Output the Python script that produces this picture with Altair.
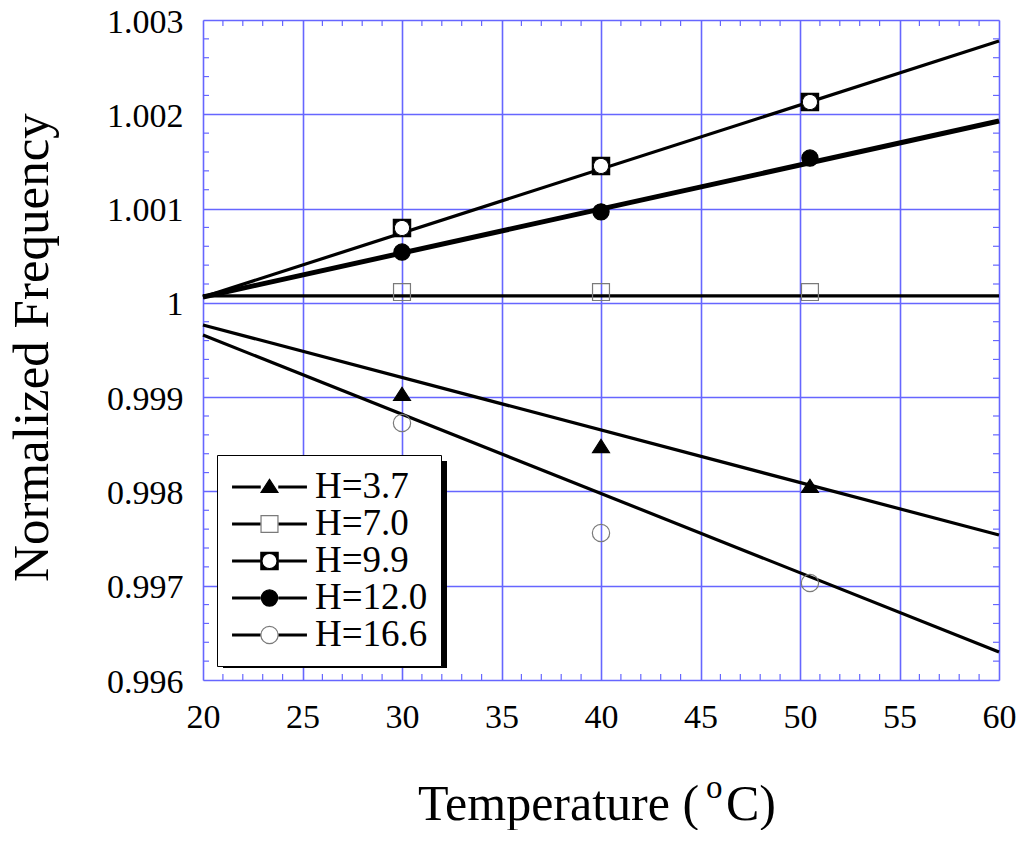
import altair as alt
import pandas as pd

# ---- data ----
temps = [30, 40, 50.5]
labels = ["H=3.7", "H=7.0", "H=9.9", "H=12.0", "H=16.6"]
h37 = [0.999023, 0.998471, 0.998047]
h70 = [1.000115, 1.000115, 1.000115]
h99 = [1.000794, 1.001452, 1.002130]
h120 = [1.000539, 1.000965, 1.001536]
h166 = [0.998726, 0.997559, 0.997029]

fit_temps = [20, 60]
fit_names = ["fit 3.7", "fit 7.0", "fit 9.9", "fit 12.0", "fit 16.6"]
fit37 = [0.999765, 0.997538]
fit70 = [1.000073, 1.000073]
fit99 = [1.000062, 1.002777]
fit120 = [1.000062, 1.001929]
fit166 = [0.999659, 0.996297]

x_ticks = [20, 25, 30, 35, 40, 45, 50, 55, 60]
y_ticks = [0.996, 0.997, 0.998, 0.999, 1.0, 1.001, 1.002, 1.003]
x_minor = [t for t in range(21, 60) if t % 5]
y_minor = [round(0.996 + 0.0002 * k, 4) for k in range(1, 35) if k % 5]

points = pd.DataFrame({
    "T": temps * 5,
    "F": h37 + h70 + h99 + h120 + h166,
    "H": sum([[l] * 3 for l in labels], []),
})
fits = pd.DataFrame({
    "T": fit_temps * 5,
    "F": fit37 + fit70 + fit99 + fit120 + fit166,
    "fit": sum([[n] * 2 for n in fit_names], []),
})
fit12 = pd.DataFrame({"T": fit_temps, "F": fit120})
p99 = pd.DataFrame({"T": temps, "F": h99})

FONT = "Liberation Serif"
BLUE = "#6666ff"
W, H = 796, 660

xs = alt.Scale(domain=[20, 60], nice=False, zero=False)
ys = alt.Scale(domain=[0.996, 1.003], nice=False, zero=False)

xaxis = alt.Axis(values=x_ticks, labelFont=FONT, labelFontSize=34, labelColor="black",
                 labelPadding=20, labelFlush=False, ticks=False, tickSize=0, domain=False,
                 grid=True, gridColor=BLUE, gridWidth=1.6, title=None)
yaxis = alt.Axis(values=y_ticks, format=".3~f", labelFont=FONT, labelFontSize=34,
                 labelColor="black", labelPadding=20, labelOffset=2, ticks=False, tickSize=0,
                 domain=False, grid=True, gridColor=BLUE, gridWidth=1.6,
                 title="Normalized Frequency", titleFont=FONT, titleFontSize=51,
                 titleFontWeight="normal", titleColor="black", titleAngle=270,
                 titleAlign="center", titleBaseline="alphabetic", titleX=-156, titleY=327)

X = lambda f: alt.X(f, scale=xs, axis=xaxis)
Y = lambda f: alt.Y(f, scale=ys, axis=yaxis)

# marker paths (unit r = sqrt(1354)/2 ~ 18.4 px)
tri = "M0,-0.42L0.46,0.3L-0.46,0.3Z"
sq = "M-0.46,-0.46H0.46V0.46H-0.46Z"
sq_hole = ("M-0.47,-0.47H0.47V0.47H-0.47Z"
           "M0.41,0A0.41,0.41,0,1,0,-0.41,0A0.41,0.41,0,1,0,0.41,0Z")
circ_f = "M0.44,0A0.44,0.44,0,1,1,-0.44,0A0.44,0.44,0,1,1,0.44,0Z"
circ_o = "M0.47,0A0.47,0.47,0,1,1,-0.47,0A0.47,0.47,0,1,1,0.47,0Z"
circ_w = "M0.41,0A0.41,0.41,0,1,1,-0.41,0A0.41,0.41,0,1,1,0.41,0Z"
MSIZE = 1354

LX, LY = 14, 435
PAD = 13
marker_legend = alt.Legend(orient="none", legendX=LX, legendY=LY, padding=PAD, rowPadding=-1,
                           symbolSize=MSIZE, symbolStrokeWidth=1.2, symbolOffset=20.5,
                           labelOffset=26.5, labelFont=FONT, labelFontSize=37, labelColor="black",
                           title=None, zindex=2, symbolOpacity=1)
line_legend = alt.Legend(orient="none", legendX=LX, legendY=LY, padding=PAD, rowPadding=-1,
                         symbolSize=1225, symbolStrokeWidth=3, symbolOffset=20.5,
                         symbolType="M-2.14,0H-0.5M0.5,0H2.14", symbolStrokeColor="black",
                         labelOffset=26.5, labelFont=FONT, labelFontSize=37, labelOpacity=0,
                         labelExpr="replace(datum.label, 'fit ', 'H=')",
                         title=None, fillColor="white", strokeColor="black",
                         zindex=1)

minor_x = pd.DataFrame({"xm": x_minor})
minor_y = pd.DataFrame({"ym": y_minor})
tick_top = alt.Chart(minor_x).mark_rule(color=BLUE, strokeWidth=1.2).encode(
    x=X("xm:Q"), y=alt.value(0), y2=alt.value(6))
tick_bot = alt.Chart(minor_x).mark_rule(color=BLUE, strokeWidth=1.2).encode(
    x=X("xm:Q"), y=alt.value(H - 6), y2=alt.value(H))
tick_left = alt.Chart(minor_y).mark_rule(color=BLUE, strokeWidth=1.2).encode(
    y=Y("ym:Q"), x=alt.value(0), x2=alt.value(6))
tick_right = alt.Chart(minor_y).mark_rule(color=BLUE, strokeWidth=1.2).encode(
    y=Y("ym:Q"), x=alt.value(W - 6), x2=alt.value(W))

lines = alt.Chart(fits).mark_line(strokeWidth=3.2).encode(
    x=X("T:Q"), y=Y("F:Q"),
    color=alt.Color("fit:N", scale=alt.Scale(domain=fit_names, range=["black"] * 5),
                    legend=line_legend),
)
thick = alt.Chart(fit12).mark_line(strokeWidth=5, color="black").encode(x=X("T:Q"), y=Y("F:Q"))

shape_scale = alt.Scale(domain=labels, range=[tri, sq, sq_hole, circ_f, circ_o])
fill_scale = alt.Scale(domain=labels, range=["black", "transparent", "black", "black", "transparent"])
stroke_scale = alt.Scale(domain=labels, range=["black", "#7a7a7a", "black", "black", "#7a7a7a"])

pts = alt.Chart(points).mark_point(opacity=1, strokeWidth=1.2, size=MSIZE).encode(
    x=X("T:Q"), y=Y("F:Q"),
    shape=alt.Shape("H:N", scale=shape_scale, legend=marker_legend),
    fill=alt.Fill("H:N", scale=fill_scale, legend=marker_legend),
    stroke=alt.Stroke("H:N", scale=stroke_scale, legend=marker_legend),
)
white = alt.Chart(p99).mark_point(opacity=1, filled=False, fill="white", stroke="black",
                                  strokeWidth=1, size=MSIZE, shape=circ_w).encode(
    x=X("T:Q"), y=Y("F:Q"))

one = pd.DataFrame({"a": [0]})
shadow = alt.Chart(one).mark_rect(color="black").encode(
    x=alt.value(LX + 6), x2=alt.value(LX + 230), y=alt.value(LY + 6), y2=alt.value(LY + 213))

def txt(s, x, y, size):
    return alt.Chart(pd.DataFrame({"t": [s]})).mark_text(
        align="left", baseline="alphabetic", font=FONT, fontSize=size, color="black").encode(
        x=alt.value(x), y=alt.value(y), text="t:N")

t1 = txt("Temperature (", 215, 800, 50)
t2 = txt("o", 503, 778, 33)
t3 = txt("C)", 523, 800, 50)

chart = alt.layer(tick_top, tick_bot, tick_left, tick_right, lines, thick, pts, white,
                  shadow, t1, t2, t3).properties(
    width=W, height=H,
    padding={"left": 195, "top": 12, "right": 17, "bottom": 150},
    autosize=alt.AutoSizeParams(type="none"),
).configure_view(stroke=BLUE, strokeWidth=2).configure_axis(
    labelFont=FONT, titleFont=FONT
).configure_legend(strokeWidth=2).configure(background="white")

chart.save("out.html", embed_options={"renderer": "svg", "actions": False})
